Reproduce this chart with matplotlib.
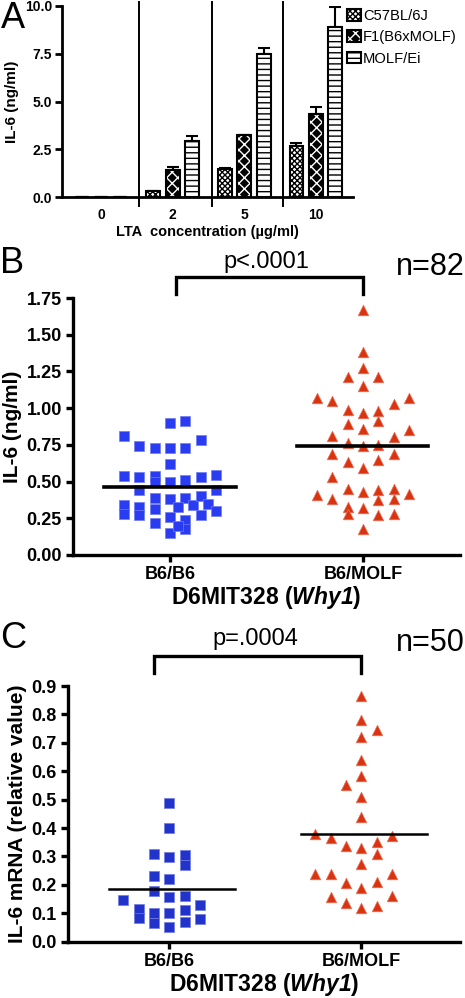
import numpy as np
import matplotlib
matplotlib.use("Agg")
import matplotlib.pyplot as plt
from matplotlib.patches import Patch
from matplotlib.legend_handler import HandlerTuple
from matplotlib.transforms import blended_transform_factory

plt.rcParams['font.family'] = ['Liberation Sans', 'DejaVu Sans']
plt.rcParams['mathtext.fontset'] = 'custom'
plt.rcParams['mathtext.rm'] = 'Liberation Sans:italic:bold'
plt.rcParams['mathtext.it'] = 'Liberation Sans:italic:bold'
plt.rcParams['mathtext.default'] = 'rm'
plt.rcParams['hatch.linewidth'] = 1.0

# ---------------- Panel A data ----------------
lta_groups = ['0', '2', '5', '10']
series_names = ['C57BL/6J', 'F1(B6xMOLF)', 'MOLF/Ei']
c57_vals = [0.0, 0.33, 1.47, 2.69]
c57_err = [0.0, 0.0, 0.07, 0.13]
f1_vals = [0.03, 1.42, 3.28, 4.37]
f1_err = [0.0, 0.17, 0.0, 0.36]
molf_vals = [0.03, 2.94, 7.48, 8.90]
molf_err = [0.0, 0.27, 0.30, 1.05]

# ---------------- Panel B data ----------------
b_categories = ['B6/B6', 'B6/MOLF']
b_b6_vals = [0.90, 0.91, 0.81, 0.74, 0.73, 0.73, 0.73, 0.78, 0.62, 0.54, 0.53, 0.54, 0.50,
             0.50, 0.51, 0.53, 0.545, 0.44, 0.44, 0.39, 0.34, 0.28, 0.33, 0.27, 0.31, 0.22,
             0.38, 0.26, 0.15, 0.39, 0.33, 0.24, 0.18, 0.34, 0.40, 0.27, 0.35, 0.30, 0.20]
b_b6_cols = [0, 1, -3, -2, -1, 0, 1, 2, 0, -3, -2, -1, -1,
             0, 1, 2, 3, -2, 3, -1, -3, -3, -2, -2, -1, -1,
             0, 0, 0, 1, 0.5, 1, 1, 1.5, 2, 2, 2.5, 3, 0.5]
b_molf_vals = [1.67, 1.38, 1.27, 1.21, 1.21, 1.15, 1.07, 1.05, 1.03, 1.07, 0.99, 0.965, 0.98,
               0.89, 0.86, 0.91, 0.81, 0.805, 0.85, 0.765, 0.74, 0.75, 0.69, 0.69, 0.65, 0.63,
               0.59, 0.53, 0.41, 0.38, 0.45, 0.43, 0.44, 0.45, 0.415, 0.375, 0.38, 0.325, 0.28,
               0.32, 0.27, 0.28, 0.18]
b_molf_cols = [0, 0, 0, -1, 1, 0, -3, -2, 2, 3, -1, 0, 1,
               -1, 0, 1, -2, 2, 3, -1, 0, 1, -2, 2, 1, -1,
               0, -2, -3, -2, -1, 0, 1, 2, 3, 1, 2, -1, -1,
               0, 1, 2, 0]
b_means = [0.465, 0.74]

# ---------------- Panel C data ----------------
c_b6_vals = [0.49, 0.40, 0.31, 0.297, 0.305, 0.27, 0.23, 0.22, 0.18, 0.156, 0.16, 0.147,
             0.115, 0.082, 0.10, 0.067, 0.10, 0.053, 0.11, 0.07, 0.13, 0.08]
c_b6_cols = [0, 0, -1, 0, 1, 1, -1, 0, -1, 0, 1, -3,
             -2, -2, -1, -1, 0, 0, 1, 1, 2, 2]
c_molf_vals = [0.865, 0.78, 0.72, 0.745, 0.64, 0.583, 0.55, 0.51, 0.44, 0.38, 0.364, 0.337,
               0.33, 0.35, 0.372, 0.31, 0.273, 0.24, 0.237, 0.208, 0.188, 0.21, 0.238, 0.158,
               0.137, 0.117, 0.126, 0.16]
c_molf_cols = [0, 0, 0, 1, 0, 0, -1, 0, 0, -3, -2, -1,
               0, 1, 2, 1, 0, -3, -2, -1, 0, 1, 2, -2,
               -1, 0, 1, 2]
c_means = [0.185, 0.38]

BLUE_B = '#2a3cf2'
BLUE_C = '#2233cc'
RED = '#d9330f'

fig = plt.figure(figsize=(4.65, 9.98), dpi=100)

# ================= Panel A =================
axA = fig.add_axes([0.1327, 0.8023, 0.6265, 0.1917])
x = np.arange(len(lta_groups))
w = 0.195
off = 0.27
series = [(c57_vals, c57_err, 'white', 'black', 'xxxxxx'),
          (f1_vals, f1_err, 'black', 'white', 'xxx'),
          (molf_vals, molf_err, 'white', 'black', '---')]
handles = []
for i, (vals, err, fc, hc, hatch) in enumerate(series):
    xs = x + (i - 1) * off
    axA.bar(xs, vals, w, color=fc, edgecolor=hc, hatch=hatch, linewidth=0, zorder=2)
    axA.bar(xs, vals, w, facecolor='none', edgecolor='black', linewidth=1.5, zorder=3)
    axA.errorbar(xs, vals, yerr=[np.zeros(len(err)), err], fmt='none', ecolor='black',
                 elinewidth=1.5, capsize=4.5, capthick=1.5, zorder=1)
    handles.append((Patch(facecolor=fc, edgecolor=hc, hatch=hatch, linewidth=0),
                    Patch(facecolor='none', edgecolor='black', linewidth=1.5)))
axA.set_xlim(-0.55, 3.52)
axA.set_ylim(0, 10)
axA.set_yticks([0, 2.5, 5, 7.5, 10])
axA.set_yticklabels(['0.0', '2.5', '5.0', '7.5', '10.0'], fontsize=10, fontweight='bold')
axA.set_xticks(x)
axA.set_xticklabels(lta_groups, fontsize=10, fontweight='bold')
axA.tick_params(axis='x', length=0, pad=8)
axA.tick_params(axis='y', length=5, width=2, pad=2)
for s in ['top', 'right']:
    axA.spines[s].set_visible(False)
for s in ['left', 'bottom']:
    axA.spines[s].set_linewidth(2)
trA = blended_transform_factory(axA.transData, axA.transAxes)
for sx in [0.535, 1.55, 2.535]:
    axA.plot([sx, sx], [-0.045, 1.02], color='black', lw=1.4, transform=trA, clip_on=False)
axA.set_ylabel('IL-6 (ng/ml)', fontsize=11, fontweight='bold', labelpad=4)
axA.set_xlabel('LTA  concentration (\u00b5g/ml)', fontsize=10.5, fontweight='bold', labelpad=2)
leg = axA.legend(handles=handles, labels=series_names,
                 handler_map={tuple: HandlerTuple(ndivide=1, pad=0)},
                 loc='upper left', bbox_to_anchor=(0.968, 1.0), frameon=False, fontsize=10.6,
                 handlelength=0.95, handleheight=0.85, handletextpad=0.15, labelspacing=0.5,
                 borderaxespad=0, borderpad=0.2)
fig.text(0.003, 1 - 28.5 / 998, 'A', fontsize=26, va='baseline', ha='left')

# ================= Panel B =================
axB = fig.add_axes([0.157, 0.4439, 0.832, 0.2575])
stepB = 0.0795
axB.scatter(0 + np.array(b_b6_cols) * stepB, b_b6_vals, marker='s', s=55, color=BLUE_B,
            edgecolors='#6f7cf7', linewidths=0.5, zorder=2)
axB.scatter(1 + np.array(b_molf_cols) * stepB, b_molf_vals, marker='^', s=58, color=RED,
            edgecolors='#e8745c', linewidths=0.5, zorder=2)
for i, m in enumerate(b_means):
    axB.plot([i - 0.34, i + 0.34], [m, m], color='black', lw=2.6, zorder=3)
axB.set_xlim(-0.503, 1.503)
axB.set_ylim(0, 1.75)
axB.set_yticks(np.arange(0, 1.76, 0.25))
axB.set_yticklabels(['%.2f' % v for v in np.arange(0, 1.76, 0.25)], fontsize=13, fontweight='bold')
axB.set_xticks([0, 1])
axB.set_xticklabels(b_categories, fontsize=13, fontweight='bold')
axB.tick_params(axis='both', length=5, width=2.4, pad=3)
for s in ['top', 'right']:
    axB.spines[s].set_visible(False)
for s in ['left', 'bottom']:
    axB.spines[s].set_linewidth(2.4)
axB.set_ylabel('IL-6 (ng/ml)', fontsize=15, fontweight='bold', labelpad=3)
axB.set_xlabel(r'D6MIT328 ($\mathrm{Why1}$)', fontsize=16.5, fontweight='bold', labelpad=1)
axB.plot([0.03, 0.03, 1.0, 1.0], [1.778, 1.892, 1.892, 1.778], color='black', lw=2.4,
         clip_on=False, solid_joinstyle='miter')
axB.text(0.5, 1.957, 'p<.0001', ha='center', va='baseline', fontsize=17)
fig.text(0.999, 1 - 275 / 998, 'n=82', ha='right', va='baseline', fontsize=22)
fig.text(0.0, 1 - 272.7 / 998, 'B', fontsize=26, va='baseline', ha='left')

# ================= Panel C =================
axC = fig.add_axes([0.1456, 0.0564, 0.8437, 0.2562])
stepC = 0.08
axC.scatter(0 + np.array(c_b6_cols) * stepC, c_b6_vals, marker='s', s=55, color=BLUE_C,
            edgecolors='#6f7ae0', linewidths=0.5, zorder=2)
axC.scatter(1 + np.array(c_molf_cols) * stepC, c_molf_vals, marker='^', s=58, color=RED,
            edgecolors='#e8745c', linewidths=0.5, zorder=2)
for i, m in enumerate(c_means):
    axC.plot([i - 0.315, i + 0.34], [m, m], color='black', lw=1.8, zorder=3)
axC.set_xlim(-0.53, 1.514)
axC.set_ylim(0, 0.9)
axC.set_yticks(np.arange(0, 0.91, 0.1))
axC.set_yticklabels(['%.1f' % v for v in np.arange(0, 0.91, 0.1)], fontsize=13, fontweight='bold')
axC.set_xticks([0, 1])
axC.set_xticklabels(b_categories, fontsize=13, fontweight='bold')
axC.tick_params(axis='both', length=5, width=2.4, pad=3)
for s in ['top', 'right']:
    axC.spines[s].set_visible(False)
for s in ['left', 'bottom']:
    axC.spines[s].set_linewidth(2.4)
axC.set_ylabel('IL-6 mRNA (relative value)', fontsize=15, fontweight='bold', labelpad=3)
axC.set_xlabel(r'D6MIT328 ($\mathrm{Why1}$)', fontsize=16.5, fontweight='bold', labelpad=1)
axC.plot([-0.08, -0.08, 1.0, 1.0], [0.947, 1.006, 1.006, 0.947], color='black', lw=2.4,
         clip_on=False, solid_joinstyle='miter')
axC.text(0.447, 1.045, 'p=.0004', ha='center', va='baseline', fontsize=17)
fig.text(0.999, 1 - 650.7 / 998, 'n=50', ha='right', va='baseline', fontsize=22)
fig.text(0.0, 1 - 648.5 / 998, 'C', fontsize=26, va='baseline', ha='left')

fig.savefig('out.png', dpi=100, facecolor='white')
